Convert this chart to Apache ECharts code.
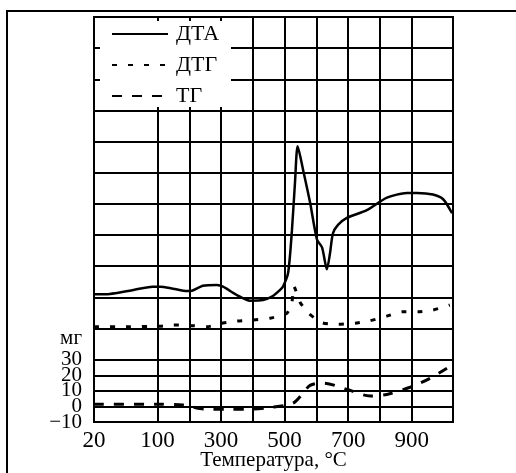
<!DOCTYPE html>
<html>
<head>
<meta charset="utf-8">
<script src="https://cdn.jsdelivr.net/npm/echarts@6/dist/echarts.min.js"></script>
<style>
  html, body { margin: 0; padding: 0; background: #fff; }
  #main { width: 516px; height: 473px; }
</style>
</head>
<body>
<div id="main"></div>
<script>
// values, temperature in °C
var dtaTemp  = [20, 40, 65, 94, 108, 149, 193, 208, 243, 287, 306, 350, 391, 432, 463, 485, 495, 511, 523, 533, 541, 558, 580, 602, 618, 633, 643, 652, 668, 696, 759, 822, 885, 917, 967, 999, 1027];
var dtaValue = [72, 72.2, 74.3, 76.9, 76.9, 75.6, 74.1, 74.3, 77.5, 78, 76.9, 71.5, 67.9, 68.3, 70.9, 74.7, 77, 85.7, 113, 145, 167, 152, 131, 107, 102, 88, 98.5, 111, 116.5, 121, 126, 134, 137, 137, 136, 133, 124];

var dtgTemp  = [20, 65, 108, 150, 200, 256, 306, 350, 400, 454, 507, 523, 529, 548, 574, 618, 668, 722, 769, 822, 869, 920, 967, 1020];
var dtgValue = [51.2, 51.2, 51.5, 52.3, 52, 51.2, 53.6, 54.8, 55.5, 56.6, 59.8, 67, 77.3, 67, 60, 53.7, 52.7, 53.4, 55, 58, 60.8, 60.8, 61.9, 65.1];

var tgTemp  = [20, 114, 180, 249, 319, 385, 454, 526, 556, 580, 621, 696, 769, 822, 895, 958, 1011];
var tgValue = [1.4, 1.4, 0.9, -1.7, -1.8, -1.7, -0.7, 2, 8, 13.5, 15, 11, 6.7, 7.7, 12.3, 18.1, 24.5];

var xTickTemps = [20, 100, 300, 500, 700, 900];
var xGridTemps = [100, 200, 300, 400, 500, 600, 700, 800, 900];
var yTickValues = [-10, 0, 10, 20, 30];
var yGridValues = [0, 10, 20, 30, 50, 70, 90, 110, 130, 150, 170, 190, 210, 230];
var xMaxTemp = 1030;

// temperature axis is stretched below 100 °C: 40 °C per cell there, then 100 °C per cell
function toAxis(t) {
  return t <= 100 ? (t - 20) / 40 : 2 + (t - 100) / 100;
}
function fromAxis(x) {
  return x <= 2 ? 20 + x * 40 : 100 + (x - 2) * 100;
}
function pairs(temps, values) {
  return temps.map(function (t, i) { return [toAxis(t), values[i]]; });
}

var font = 'Liberation Serif';

// the mg labels sit closer than their font height, so they are split over two
// identical axes, otherwise echarts drops every other one
function mgAxis(values) {
  return {
    type: 'value',
    min: -10,
    max: 250,
    position: 'left',
    axisLine: { show: false },
    axisTick: { show: false },
    splitLine: { show: false },
    axisLabel: {
      customValues: values,
      showMinLabel: true, showMaxLabel: true,
      formatter: function (v) { return v < 0 ? '\u2212' + (-v) : String(v); },
      fontFamily: font, fontSize: 21, color: '#000', margin: 12,
      padding: [0, 0, 3, 0]
    }
  };
}

var chart = echarts.init(document.getElementById('main'));

var option = {
  animation: false,
  grid: {
    left: 94, top: 17, width: 359, height: 405,
    outerBoundsMode: 'none',
    show: true, borderColor: '#000', borderWidth: 2
  },
  xAxis: {
    type: 'value',
    min: 0,
    max: toAxis(xMaxTemp),
    axisLine: { show: false },
    axisTick: { show: false },
    splitLine: { show: false },
    axisLabel: {
      customValues: xTickTemps.map(toAxis),
      showMinLabel: true, showMaxLabel: true,
      formatter: function (v) { return Math.round(fromAxis(v)); },
      fontFamily: font, fontSize: 23, color: '#000', margin: 7
    },
    name: 'Температура, °C',
    nameLocation: 'middle',
    nameGap: 28,
    nameMoveOverlap: false,
    nameTextStyle: { fontFamily: font, fontSize: 21, color: '#000' }
  },
  yAxis: [
    mgAxis(yTickValues.filter(function (v, i) { return i % 2 === 0; })),
    mgAxis(yTickValues.filter(function (v, i) { return i % 2 === 1; }))
  ],
  legend: {
    data: ['ДТА', 'ДТГ', 'ТГ'],
    orient: 'vertical',
    left: 111, top: 23,
    padding: 0,
    itemWidth: 56, itemHeight: 14, itemGap: 9,
    itemStyle: { opacity: 0 },
    textStyle: { fontFamily: font, fontSize: 22, color: '#000', padding: [0, 0, 0, 3] },
    z: 110
  },
  graphic: {
    elements: [
      {
        type: 'rect', z: 100,
        shape: { x: 7, y: 11, width: 530, height: 480 },
        style: { fill: 'none', stroke: '#000', lineWidth: 2 }
      },
      {
        type: 'rect', z: 100,
        shape: { x: 100, y: 21, width: 131, height: 86 },
        style: { fill: '#fff' }
      },
      {
        type: 'text', z: 100,
        x: 82, y: 338,
        style: { text: 'мг', font: '21px ' + font, fill: '#000', align: 'right', verticalAlign: 'middle' }
      }
    ]
  },
  series: [
    {
      name: 'grid',
      type: 'line',
      data: [],
      silent: true,
      markLine: {
        silent: true,
        symbol: 'none',
        label: { show: false },
        lineStyle: { color: '#000', width: 2, type: 'solid' },
        emphasis: { disabled: true },
        data: xGridTemps.map(function (t) { return { xAxis: toAxis(t) }; })
          .concat(yGridValues.map(function (v) { return { yAxis: v }; }))
      }
    },
    {
      name: 'ДТА',
      type: 'line',
      data: pairs(dtaTemp, dtaValue),
      symbol: 'none',
      smooth: 0.25,
      lineStyle: { color: '#000', width: 2.5 },
      itemStyle: { color: '#000' }
    },
    {
      name: 'ДТГ',
      type: 'line',
      data: pairs(dtgTemp, dtgValue),
      symbol: 'none',
      smooth: 0.2,
      lineStyle: { color: '#000', width: 3, type: [5, 11] },
      itemStyle: { color: '#000' }
    },
    {
      name: 'ТГ',
      type: 'line',
      data: pairs(tgTemp, tgValue),
      symbol: 'none',
      smooth: 0.3,
      lineStyle: { color: '#000', width: 3, type: [10, 10] },
      itemStyle: { color: '#000' }
    }
  ]
};

chart.setOption(option);
</script>
</body>
</html>
